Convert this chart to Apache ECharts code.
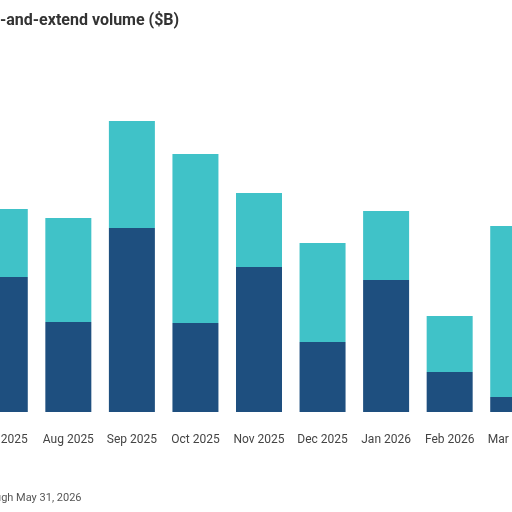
<!DOCTYPE html>
<html>
<head>
<meta charset="utf-8">
<script src="https://cdn.jsdelivr.net/npm/echarts@6/dist/echarts.min.js"></script>
<style>
  html, body { margin: 0; padding: 0; width: 512px; height: 512px; overflow: hidden; background: #fff; }
  #chart { position: absolute; left: -100px; top: 0; width: 700px; height: 512px; }
</style>
</head>
<body>
<div id="chart"></div>
<script>
// months shown (chart is cropped at both sides)
const months = ['Jul 2025', 'Aug 2025', 'Sep 2025', 'Oct 2025', 'Nov 2025', 'Dec 2025', 'Jan 2026', 'Feb 2026', 'Mar 2026'];
// lower (dark) and upper (teal) stacked segments, $B
const darkPart = [13.5, 9.0, 18.4, 8.9, 14.5, 7.0, 13.2, 4.0, 1.5];
const tealPart = [6.8, 10.4, 10.7, 16.9, 7.4, 9.9, 6.9, 5.6, 17.1];

const chart = echarts.init(document.getElementById('chart'));
chart.setOption({
  animation: false,
  title: [
    {
      text: 'Amend-and-extend volume ($B)',
      left: 44, top: 8,
      textStyle: { fontFamily: 'Roboto', fontSize: 16, fontWeight: 'bold', color: '#333' }
    },
    {
      text: 'Data through May 31, 2026',
      left: 45, top: 488,
      textStyle: { fontFamily: 'Roboto', fontSize: 11, fontWeight: 'normal', color: '#555' }
    }
  ],
  grid: { left: 73, width: 572, top: 112, bottom: 100 },
  xAxis: {
    type: 'category',
    data: months,
    axisLine: { show: false },
    axisTick: { show: false },
    axisLabel: { color: '#444', fontFamily: 'Roboto', fontSize: 12, margin: 22, interval: 0 }
  },
  yAxis: {
    type: 'value',
    min: 0, max: 30,
    show: false
  },
  series: [
    {
      name: 'dark',
      type: 'bar',
      stack: 'v',
      data: darkPart,
      barWidth: 46,
      itemStyle: { color: '#1e4f7f' }
    },
    {
      name: 'teal',
      type: 'bar',
      stack: 'v',
      data: tealPart,
      barWidth: 46,
      itemStyle: { color: '#40c2c8' }
    }
  ]
});
</script>
</body>
</html>
